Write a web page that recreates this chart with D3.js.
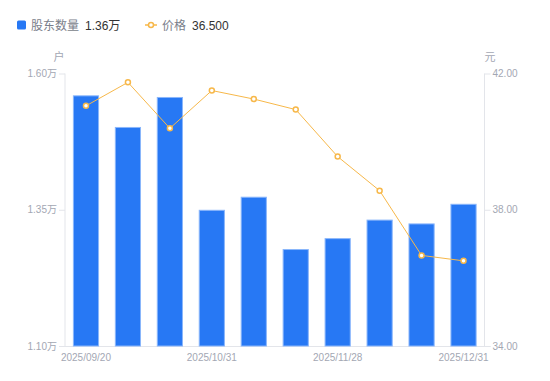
<!DOCTYPE html>
<html>
<head>
<meta charset="utf-8">
<script src="https://cdn.jsdelivr.net/npm/d3@7"></script>
<style>
  body { margin: 0; background: #fff; }
  text { font-family: "Liberation Sans", "Noto Sans CJK SC", sans-serif; }
</style>
</head>
<body>
<div id="chart-area"></div>
<script>
// datos
var dates = ["2025/09/20", "2025/09/30", "2025/10/17", "2025/10/31", "2025/11/10",
             "2025/11/20", "2025/11/28", "2025/12/10", "2025/12/19", "2025/12/31"];
var holders = [1.559, 1.501, 1.556, 1.349, 1.373, 1.277, 1.297, 1.331, 1.324, 1.360]; // 万户
var prices = [41.05, 41.74, 40.39, 41.50, 41.25, 40.94, 39.56, 38.56, 36.66, 36.50];  // 元
var shownDates = ["2025/09/20", "2025/10/31", "2025/11/28", "2025/12/31"];
var leftTicks = [1.10, 1.35, 1.60];
var rightTicks = [34, 38, 42];

var W = 550, H = 381;
var mLeft = 65, mRight = 484.5, mTop = 73.5, mBottom = 346;

var svg = d3.select("#chart-area").append("svg")
    .attr("width", W)
    .attr("height", H);

var x = d3.scaleBand().domain(dates).range([mLeft, mRight])
    .paddingInner(0.4).paddingOuter(0.2);
var yL = d3.scaleLinear().domain([1.10, 1.60]).range([mBottom, mTop]);
var yR = d3.scaleLinear().domain([34, 42]).range([mBottom, mTop]);

var axisColor = "#e3e5ea";
var tickText = "#a3a7b3";

// ejes
svg.append("line")
    .attr("x1", mLeft).attr("x2", mLeft).attr("y1", mTop).attr("y2", mBottom)
    .attr("stroke", axisColor);
svg.append("line")
    .attr("x1", mRight).attr("x2", mRight).attr("y1", mTop).attr("y2", mBottom)
    .attr("stroke", axisColor);
svg.append("line")
    .attr("x1", mLeft - 6).attr("x2", mRight + 6).attr("y1", mBottom + 0.5).attr("y2", mBottom + 0.5)
    .attr("stroke", axisColor);

leftTicks.forEach(function(t) {
    svg.append("line")
        .attr("x1", mLeft - 6).attr("x2", mLeft).attr("y1", yL(t) + 0.5).attr("y2", yL(t) + 0.5)
        .attr("stroke", axisColor);
    svg.append("text")
        .attr("x", mLeft - 8).attr("y", yL(t) + 3.5)
        .attr("text-anchor", "end")
        .attr("font-size", 10)
        .attr("fill", tickText)
        .text(t.toFixed(2) + "万");
});

rightTicks.forEach(function(t) {
    svg.append("line")
        .attr("x1", mRight).attr("x2", mRight + 6).attr("y1", yR(t) + 0.5).attr("y2", yR(t) + 0.5)
        .attr("stroke", axisColor);
    svg.append("text")
        .attr("x", mRight + 8).attr("y", yR(t) + 3.5)
        .attr("font-size", 10)
        .attr("fill", tickText)
        .text(t.toFixed(2));
});

// unidades
svg.append("text").attr("x", 59).attr("y", 61).attr("text-anchor", "middle")
    .attr("font-size", 11).attr("fill", tickText).text("户");
svg.append("text").attr("x", 490).attr("y", 61).attr("text-anchor", "middle")
    .attr("font-size", 11).attr("fill", tickText).text("元");

// etiquetas de fechas
shownDates.forEach(function(d) {
    svg.append("text")
        .attr("x", x(d) + x.bandwidth() / 2)
        .attr("y", 361)
        .attr("text-anchor", "middle")
        .attr("font-size", 10)
        .attr("fill", tickText)
        .text(d);
});

// barras
svg.selectAll(".bar").data(holders).enter().append("rect")
    .attr("class", "bar")
    .attr("x", function(d, i) { return x(dates[i]); })
    .attr("y", function(d) { return yL(d); })
    .attr("width", x.bandwidth())
    .attr("height", function(d) { return mBottom - yL(d); })
    .attr("fill", "#2778f4")
    .attr("stroke", "#8ab6fb")
    .attr("stroke-width", 1);

// línea de precio
var line = d3.line()
    .x(function(d, i) { return x(dates[i]) + x.bandwidth() / 2; })
    .y(function(d) { return yR(d); });

svg.append("path")
    .datum(prices)
    .attr("d", line)
    .attr("fill", "none")
    .attr("stroke", "#f7b84a")
    .attr("stroke-width", 1);

svg.selectAll(".pt").data(prices).enter().append("circle")
    .attr("class", "pt")
    .attr("cx", function(d, i) { return x(dates[i]) + x.bandwidth() / 2; })
    .attr("cy", function(d) { return yR(d); })
    .attr("r", 2.5)
    .attr("fill", "#fff")
    .attr("stroke", "#f7b84a")
    .attr("stroke-width", 1.5);

// leyenda
svg.append("rect")
    .attr("x", 17).attr("y", 20.5).attr("width", 9).attr("height", 9).attr("rx", 1.5)
    .attr("fill", "#2778f4");
svg.append("text").attr("x", 31).attr("y", 29.5).attr("font-size", 12)
    .attr("fill", "#7a7e8a").text("股东数量");
svg.append("text").attr("x", 85).attr("y", 29.5).attr("font-size", 12)
    .attr("fill", "#333").text(d3.format(".2f")(holders[holders.length - 1]) + "万");

svg.append("line")
    .attr("x1", 145).attr("x2", 157).attr("y1", 25).attr("y2", 25)
    .attr("stroke", "#f7b84a").attr("stroke-width", 1.5);
svg.append("circle")
    .attr("cx", 151).attr("cy", 25).attr("r", 2.5)
    .attr("fill", "#fff").attr("stroke", "#f7b84a").attr("stroke-width", 1.5);
svg.append("text").attr("x", 162).attr("y", 29.5).attr("font-size", 12)
    .attr("fill", "#7a7e8a").text("价格");
svg.append("text").attr("x", 192).attr("y", 29.5).attr("font-size", 12)
    .attr("fill", "#333").text(d3.format(".3f")(prices[prices.length - 1]));
</script>
</body>
</html>
